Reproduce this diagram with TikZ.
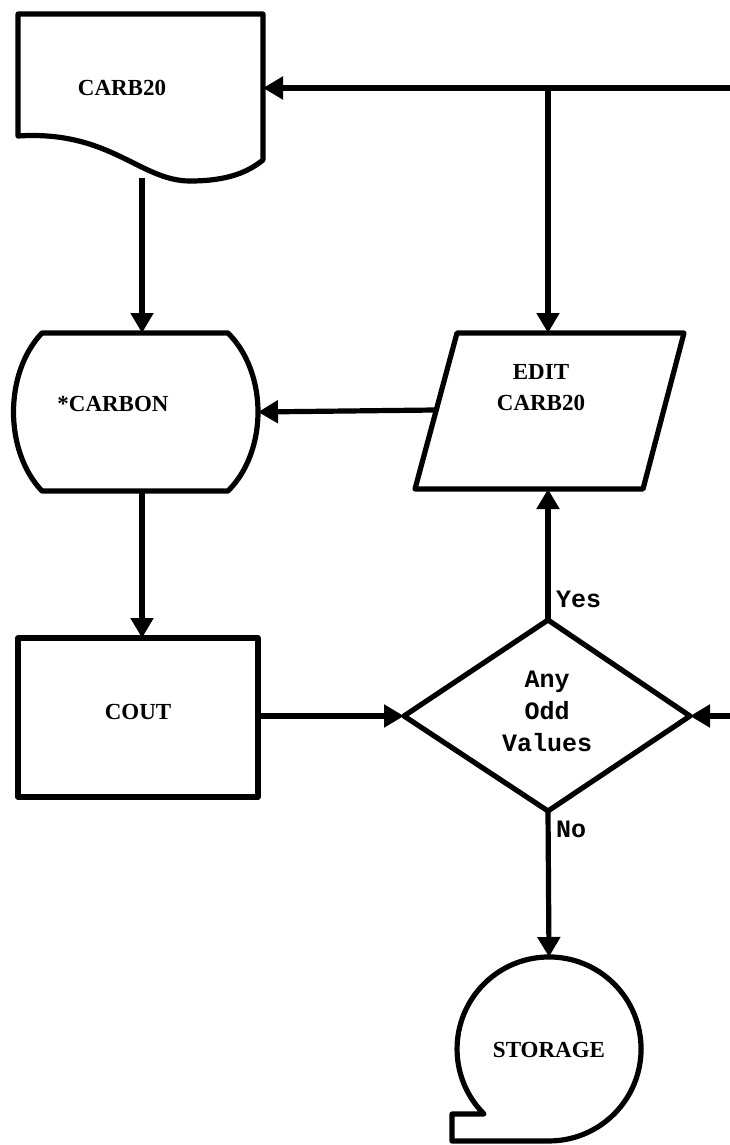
\documentclass[tikz,border=0pt]{standalone}
\usepackage{fontspec}
\setmainfont{Liberation Serif}
\newfontfamily\monofont{Liberation Mono}
\usetikzlibrary{arrows.meta,shapes.geometric}
\begin{document}
\begin{tikzpicture}[x=1pt,y=-1pt,
  outline/.style={line width=5.2pt,line join=round},
  flow/.style={line width=5.2pt,-{Triangle[length=20pt,width=22pt]}},
  lbl/.style={font=\bfseries\fontsize{23}{27}\selectfont,inner sep=0pt},
  mono/.style={font=\monofont\bfseries\fontsize{25}{32}\selectfont,inner sep=0pt,align=center}]
\useasboundingbox (0,0) rectangle (730,1145);

% document symbol
\draw[outline] (18,136) -- (18,14) -- (263,14) -- (263,160)
  .. controls (248,172) and (228,181) .. (190,181)
  .. controls (140,181) and (110,130) .. (18,136) -- cycle;
\node[lbl] (carb) at (122,88) {CARB20};
\coordinate (carbR) at (263,88);
\coordinate (carbB) at (142,178);

% *CARBON display symbol
\draw[outline] (42,333) -- (228,333)
  .. controls (268,373) and (268,451) .. (228,491) -- (42,491)
  .. controls (4,451) and (4,373) .. (42,333) -- cycle;
\node[lbl] (carbon) at (113,404) {*CARBON};
\coordinate (carbonT) at (142,333);
\coordinate (carbonR) at (258,412);
\coordinate (carbonB) at (142,491);

% EDIT input/output parallelogram
\draw[outline] (457,333) -- (684,333) -- (643,489) -- (415,489) -- cycle;
\node[lbl,align=center] (edit) at (541,388) {EDIT\\[4pt]CARB20};
\coordinate (editT) at (548,333);
\coordinate (editL) at (435,410);
\coordinate (editB) at (548,489);

% COUT process box
\draw[outline] (18,638) rectangle (258,797);
\node[lbl] (cout) at (138,712) {COUT};
\coordinate (coutT) at (142,638);
\coordinate (coutR) at (258,716);

% decision diamond
\draw[outline] (548,620) -- (690,716) -- (548,811) -- (404,716) -- cycle;
\node[mono] (dec) at (547,711) {Any\\Odd\\Values};
\coordinate (decT) at (548,620);
\coordinate (decL) at (404,716);
\coordinate (decR) at (690,716);
\coordinate (decB) at (548,811);

% STORAGE symbol
\draw[outline] (549,1141) -- (452,1141) -- (452,1114) -- (484,1114)
  arc[start angle=135,end angle=450,radius=92];
\node[lbl] (stor) at (549,1050) {STORAGE};
\coordinate (storT) at (549,957);

% free ends at the right margin
\coordinate (topIn) at (732,88);
\coordinate (junc) at (548,88);
\coordinate (midIn) at (732,716);

% connectors
\draw[flow] (topIn) -- (carbR);
\draw[flow] (junc) -- (editT);
\draw[flow] (carbB) -- (carbonT);
\draw[flow] (editL) -- (carbonR);
\draw[flow] (carbonB) -- (coutT);
\draw[flow] (decT) -- (editB);
\draw[flow] (coutR) -- (decL);
\draw[flow] (midIn) -- (decR);
\draw[flow] (decB) -- (storT);

\node[mono,anchor=west] (yes) at (556,599) {Yes};
\node[mono,anchor=west] (no) at (556,829) {No};
\end{tikzpicture}
\end{document}
